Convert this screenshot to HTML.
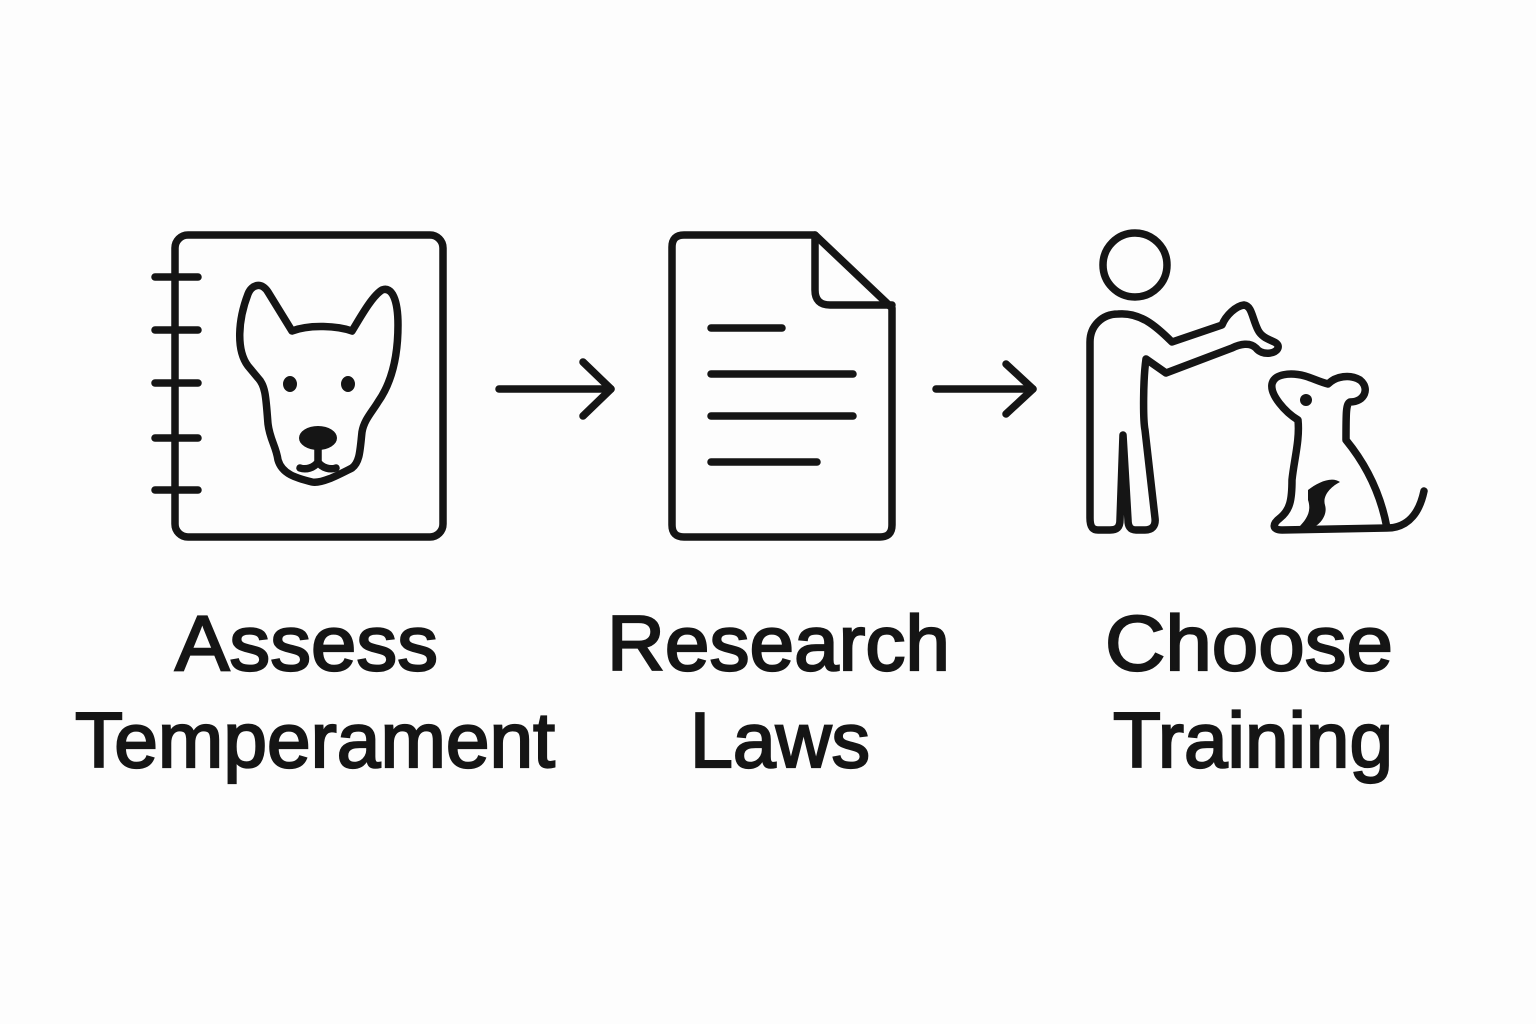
<!DOCTYPE html>
<html><head><meta charset="utf-8"><style>
html,body{margin:0;padding:0;background:#fdfdfd;}
svg{display:block}
text{font-family:"Liberation Sans",sans-serif;font-weight:normal;font-size:78px;fill:#151515;stroke:#151515;stroke-width:2.2px}
</style></head><body>
<svg width="1536" height="1024" viewBox="0 0 1536 1024" xmlns="http://www.w3.org/2000/svg">
<rect width="1536" height="1024" fill="#fdfdfd"/>
<g fill="none" stroke="#151515" stroke-width="7.5" stroke-linecap="round" stroke-linejoin="round">
<rect x="175" y="235" width="268" height="302" rx="13"/>
<line x1="155" y1="277" x2="198" y2="277"/>
<line x1="155" y1="330" x2="198" y2="330"/>
<line x1="155" y1="383" x2="198" y2="383"/>
<line x1="155" y1="438" x2="198" y2="438"/>
<line x1="155" y1="490" x2="198" y2="490"/>
<path d="M292,331 L268,292 C262,282 252,284 248,294 C238,320 236,350 248,366 L258,378 C266,386 266,400 268,424 C270,440 276,446 278,460 C282,474 296,478 312,482 C322,484 340,474 352,468 C360,462 360,450 362,432 C364,420 372,412 378,402 C390,385 398,360 398,325 C398,300 392,286 382,290 C372,296 360,318 352,331 C338,326 310,324 292,331 Z"/>
<path d="M318,445 L318,462 C314,468 306,470 300,468 M318,462 C322,468 330,470 336,468"/>
<line x1="499" y1="389" x2="611" y2="389"/>
<polyline points="583,362 611,389 583,416"/>
<line x1="936" y1="389" x2="1033" y2="389"/>
<polyline points="1006,364 1033,389 1006,414"/>
<path d="M684,235 H815 L892,308 V525 Q892,537 880,537 H684 Q672,537 672,525 V247 Q672,235 684,235 Z"/>
<path d="M815,235 V290 Q815,305 830,305 H892"/>
<line x1="711" y1="328" x2="782" y2="328"/>
<line x1="711" y1="374" x2="853" y2="374"/>
<line x1="711" y1="416" x2="853" y2="416"/>
<line x1="711" y1="462" x2="817" y2="462"/>
<circle cx="1135" cy="265" r="32"/>
<path d="M1118,314 C1140,312 1156,326 1172,342 L1222,325 C1226,315 1236,306 1244,305 C1252,306 1252,318 1258,330 C1264,342 1280,340 1278,348 C1276,354 1262,356 1256,348 C1250,342 1240,344 1232,348 L1166,373 L1146,359 C1143,380 1143,420 1145,430 L1155,518 C1156,526 1152,530 1145,530 L1136,530 C1130,530 1128,526 1128,520 L1123,435 L1120,520 C1120,528 1116,530 1110,530 L1098,530 C1092,530 1090,526 1090,518 L1090,342 C1090,326 1102,314 1118,314 Z"/>
<path d="M1298,420 C1285,412 1270,395 1272,384 C1274,374 1290,372 1305,376 C1312,378 1320,382 1328,384 C1336,376 1350,374 1360,380 C1370,388 1365,402 1350,402 C1346,404 1346,412 1346,440 C1364,462 1380,490 1387,528 C1410,528 1420,510 1424,491 M1387,528 L1282,530 C1272,530 1272,524 1280,518 C1290,510 1292,500 1292,480 C1294,460 1300,440 1298,420"/>
</g>
<g fill="#151515">
<ellipse cx="290" cy="384" rx="7" ry="8"/>
<ellipse cx="348" cy="384" rx="7" ry="8"/>
<ellipse cx="318" cy="438" rx="19" ry="12"/>
<ellipse cx="1306" cy="400" rx="6" ry="6"/>
<path d="M1308,490 C1318,482 1332,476 1340,482 C1332,486 1322,495 1325,505 C1328,515 1320,525 1312,528 L1298,528 C1306,520 1312,512 1308,500 Z"/>
</g>
<text x="175" y="670" textLength="263" lengthAdjust="spacingAndGlyphs">Assess</text>
<text x="75" y="767" textLength="480" lengthAdjust="spacingAndGlyphs">Temperament</text>
<text x="607" y="670" textLength="343" lengthAdjust="spacingAndGlyphs">Research</text>
<text x="690" y="767" textLength="180" lengthAdjust="spacingAndGlyphs">Laws</text>
<text x="1105" y="670" textLength="288" lengthAdjust="spacingAndGlyphs">Choose</text>
<text x="1113" y="767" textLength="280" lengthAdjust="spacingAndGlyphs">Training</text>
</svg>
</body></html>
